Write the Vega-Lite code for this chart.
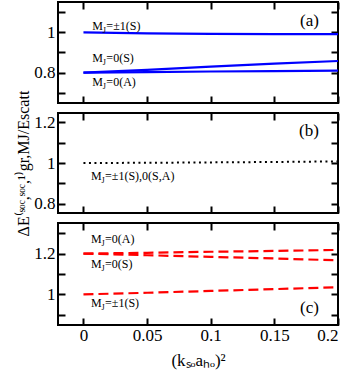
{
  "$schema": "https://vega.github.io/schema/vega-lite/v6.json",
  "padding": {"left": 14, "top": 0, "right": 13, "bottom": 2},
  "spacing": 10,
  "bounds": "flush",
  "config": {
    "view": {"stroke": "black", "strokeWidth": 2},
    "font": "'Liberation Serif', 'Times New Roman', serif",
    "text": {"font": "'Liberation Serif', 'Times New Roman', serif"},
    "axis": {
      "domain": false, "grid": false, "ticks": true, "tickSize": -7, "tickWidth": 2, "tickColor": "black",
      "labelFont": "'Liberation Serif', 'Times New Roman', serif", "labelFontSize": 17, "labelColor": "black", "labelPadding": 10,
      "titleFont": "'Liberation Serif', 'Times New Roman', serif", "titleFontSize": 17, "titleFontWeight": "normal", "titleColor": "black"
    }
  },
  "datasets": {
    "a": [
      {"s": "pm1S", "x": 0, "y": 1.0}, {"s": "pm1S", "x": 0.05, "y": 0.995}, {"s": "pm1S", "x": 0.1, "y": 0.992}, {"s": "pm1S", "x": 0.15, "y": 0.991}, {"s": "pm1S", "x": 0.2, "y": 0.991},
      {"s": "0S", "x": 0, "y": 0.8}, {"s": "0S", "x": 0.05, "y": 0.814}, {"s": "0S", "x": 0.1, "y": 0.83}, {"s": "0S", "x": 0.15, "y": 0.845}, {"s": "0S", "x": 0.2, "y": 0.858},
      {"s": "0A", "x": 0, "y": 0.8}, {"s": "0A", "x": 0.05, "y": 0.803}, {"s": "0A", "x": 0.1, "y": 0.806}, {"s": "0A", "x": 0.15, "y": 0.808}, {"s": "0A", "x": 0.2, "y": 0.81}
    ],
    "b": [
      {"s": "all", "x": 0, "y": 1.0}, {"s": "all", "x": 0.05, "y": 1.001}, {"s": "all", "x": 0.1, "y": 1.003}, {"s": "all", "x": 0.15, "y": 1.005}, {"s": "all", "x": 0.2, "y": 1.008}
    ],
    "c": [
      {"s": "0A", "x": 0, "y": 1.2}, {"s": "0A", "x": 0.05, "y": 1.204}, {"s": "0A", "x": 0.1, "y": 1.209}, {"s": "0A", "x": 0.15, "y": 1.213}, {"s": "0A", "x": 0.2, "y": 1.218},
      {"s": "0S", "x": 0, "y": 1.2}, {"s": "0S", "x": 0.05, "y": 1.192}, {"s": "0S", "x": 0.1, "y": 1.184}, {"s": "0S", "x": 0.15, "y": 1.176}, {"s": "0S", "x": 0.2, "y": 1.167},
      {"s": "pm1S", "x": 0, "y": 1.0}, {"s": "pm1S", "x": 0.05, "y": 1.008}, {"s": "pm1S", "x": 0.1, "y": 1.017}, {"s": "pm1S", "x": 0.15, "y": 1.026}, {"s": "pm1S", "x": 0.2, "y": 1.035}
    ],
    "la": [
      {"x": 0.007, "y": 1.0135, "rest": "=±1(S)"},
      {"x": 0.007, "y": 0.855, "rest": "=0(S)"},
      {"x": 0.007, "y": 0.733, "rest": "=0(A)"}
    ],
    "lb": [
      {"x": 0.006, "y": 0.917, "rest": "=±1(S),0(S,A)"}
    ],
    "lc": [
      {"x": 0.006, "y": 1.25, "rest": "=0(A)"},
      {"x": 0.006, "y": 1.128, "rest": "=0(S)"},
      {"x": 0.006, "y": 0.936, "rest": "=±1(S)"}
    ],
    "pa": [{"x": 0.185, "y": 1.03, "t": "(a)"}],
    "pb": [{"x": 0.185, "y": 1.13, "t": "(b)"}],
    "pc": [{"x": 0.185, "y": 0.911, "t": "(c)"}]
  },
  "vconcat": [
    {
      "width": 280, "height": 101,
      "resolve": {"axis": {"x": "independent", "y": "independent"}},
      "layer": [
        {
          "data": {"name": "a"},
          "mark": {"type": "line", "color": "#0000ff", "strokeWidth": 2.2},
          "encoding": {
            "x": {"field": "x", "type": "quantitative", "scale": {"domain": [-0.02, 0.2], "nice": false, "zero": false},
                  "axis": {"orient": "bottom", "values": [0, 0.05, 0.1, 0.15, 0.2], "labels": false, "title": null, "labelPadding": 0, "minExtent": 0, "maxExtent": 0}},
            "y": {"field": "y", "type": "quantitative", "scale": {"domain": [0.65, 1.15], "nice": false, "zero": false},
                  "axis": {"orient": "left", "values": [0.7, 0.8, 0.9, 1.0, 1.1], "labelExpr": "round(datum.value*10) % 2 == 0 ? format(datum.value, '~g') : ''", "title": null}},
            "detail": {"field": "s"}
          }
        },
        {
          "data": {"name": "la"},
          "mark": {"type": "text", "align": "left", "baseline": "alphabetic", "fontSize": 12, "text": "M"},
          "encoding": {
            "x": {"field": "x", "type": "quantitative", "scale": {"domain": [-0.02, 0.2], "nice": false, "zero": false}, "axis": null},
            "y": {"field": "y", "type": "quantitative", "scale": {"domain": [0.65, 1.15], "nice": false, "zero": false}, "axis": null}
          }
        },
        {
          "data": {"name": "la"},
          "mark": {"type": "text", "align": "left", "baseline": "alphabetic", "fontSize": 8, "text": "J", "dx": 10.5, "dy": 3},
          "encoding": {
            "x": {"field": "x", "type": "quantitative", "scale": {"domain": [-0.02, 0.2], "nice": false, "zero": false}, "axis": null},
            "y": {"field": "y", "type": "quantitative", "scale": {"domain": [0.65, 1.15], "nice": false, "zero": false}, "axis": null}
          }
        },
        {
          "data": {"name": "la"},
          "mark": {"type": "text", "align": "left", "baseline": "alphabetic", "fontSize": 12, "dx": 14},
          "encoding": {
            "x": {"field": "x", "type": "quantitative", "scale": {"domain": [-0.02, 0.2], "nice": false, "zero": false}, "axis": null},
            "y": {"field": "y", "type": "quantitative", "scale": {"domain": [0.65, 1.15], "nice": false, "zero": false}, "axis": null},
            "text": {"field": "rest"}
          }
        },
        {
          "data": {"name": "pa"},
          "mark": {"type": "text", "align": "right", "baseline": "alphabetic", "fontSize": 17},
          "encoding": {
            "x": {"field": "x", "type": "quantitative", "scale": {"domain": [-0.02, 0.2], "nice": false, "zero": false},
                  "axis": {"orient": "top", "values": [0, 0.05, 0.1, 0.15, 0.2], "labels": false, "title": null, "labelPadding": 0, "minExtent": 0, "maxExtent": 0}},
            "y": {"field": "y", "type": "quantitative", "scale": {"domain": [0.65, 1.15], "nice": false, "zero": false},
                  "axis": {"orient": "right", "values": [0.7, 0.8, 0.9, 1.0, 1.1], "labels": false, "title": null, "labelPadding": 0, "minExtent": 0, "maxExtent": 0}},
            "text": {"field": "t"}
          }
        }
      ]
    },
    {
      "width": 280, "height": 100,
      "resolve": {"axis": {"x": "independent", "y": "independent"}},
      "layer": [
        {
          "data": {"name": "b"},
          "mark": {"type": "line", "color": "black", "strokeWidth": 2, "strokeDash": [2, 3.5]},
          "encoding": {
            "x": {"field": "x", "type": "quantitative", "scale": {"domain": [-0.02, 0.2], "nice": false, "zero": false},
                  "axis": {"orient": "bottom", "values": [0, 0.05, 0.1, 0.15, 0.2], "labels": false, "title": null, "labelPadding": 0, "minExtent": 0, "maxExtent": 0}},
            "y": {"field": "y", "type": "quantitative", "scale": {"domain": [0.755, 1.245], "nice": false, "zero": false},
                  "axis": {"orient": "left", "values": [0.8, 0.9, 1.0, 1.1, 1.2], "labelExpr": "round(datum.value*10) % 2 == 0 ? format(datum.value, '~g') : ''",
                           "title": "ΔE⁽ˢᵒᶜ,ˢᵒᶜ,¹⁾gr,MJ/Escatt", "titlePadding": 2, "titleFontSize": 16}},
            "detail": {"field": "s"}
          }
        },
        {
          "data": {"name": "lb"},
          "mark": {"type": "text", "align": "left", "baseline": "alphabetic", "fontSize": 12, "text": "M"},
          "encoding": {
            "x": {"field": "x", "type": "quantitative", "scale": {"domain": [-0.02, 0.2], "nice": false, "zero": false}, "axis": null},
            "y": {"field": "y", "type": "quantitative", "scale": {"domain": [0.755, 1.245], "nice": false, "zero": false}, "axis": null}
          }
        },
        {
          "data": {"name": "lb"},
          "mark": {"type": "text", "align": "left", "baseline": "alphabetic", "fontSize": 8, "text": "J", "dx": 10.5, "dy": 3},
          "encoding": {
            "x": {"field": "x", "type": "quantitative", "scale": {"domain": [-0.02, 0.2], "nice": false, "zero": false}, "axis": null},
            "y": {"field": "y", "type": "quantitative", "scale": {"domain": [0.755, 1.245], "nice": false, "zero": false}, "axis": null}
          }
        },
        {
          "data": {"name": "lb"},
          "mark": {"type": "text", "align": "left", "baseline": "alphabetic", "fontSize": 12, "dx": 14},
          "encoding": {
            "x": {"field": "x", "type": "quantitative", "scale": {"domain": [-0.02, 0.2], "nice": false, "zero": false}, "axis": null},
            "y": {"field": "y", "type": "quantitative", "scale": {"domain": [0.755, 1.245], "nice": false, "zero": false}, "axis": null},
            "text": {"field": "rest"}
          }
        },
        {
          "data": {"name": "pb"},
          "mark": {"type": "text", "align": "right", "baseline": "alphabetic", "fontSize": 17},
          "encoding": {
            "x": {"field": "x", "type": "quantitative", "scale": {"domain": [-0.02, 0.2], "nice": false, "zero": false},
                  "axis": {"orient": "top", "values": [0, 0.05, 0.1, 0.15, 0.2], "labels": false, "title": null, "labelPadding": 0, "minExtent": 0, "maxExtent": 0}},
            "y": {"field": "y", "type": "quantitative", "scale": {"domain": [0.755, 1.245], "nice": false, "zero": false},
                  "axis": {"orient": "right", "values": [0.8, 0.9, 1.0, 1.1, 1.2], "labels": false, "title": null, "labelPadding": 0, "minExtent": 0, "maxExtent": 0}},
            "text": {"field": "t"}
          }
        }
      ]
    },
    {
      "width": 280, "height": 102,
      "resolve": {"axis": {"x": "independent", "y": "independent"}},
      "layer": [
        {
          "data": {"name": "c"},
          "mark": {"type": "line", "color": "#ff0000", "strokeWidth": 2.2, "strokeDash": [10, 5]},
          "encoding": {
            "x": {"field": "x", "type": "quantitative", "scale": {"domain": [-0.02, 0.2], "nice": false, "zero": false},
                  "axis": {"orient": "bottom", "values": [0, 0.05, 0.1, 0.15, 0.2], "format": "~g", "title": "(kₛₒaₕₒ)²", "titlePadding": 9, "labelPadding": 9}},
            "y": {"field": "y", "type": "quantitative", "scale": {"domain": [0.85, 1.35], "nice": false, "zero": false},
                  "axis": {"orient": "left", "values": [0.9, 1.0, 1.1, 1.2, 1.3], "labelExpr": "round(datum.value*10) % 2 == 0 ? format(datum.value, '~g') : ''", "title": null}},
            "detail": {"field": "s"}
          }
        },
        {
          "data": {"name": "lc"},
          "mark": {"type": "text", "align": "left", "baseline": "alphabetic", "fontSize": 12, "text": "M"},
          "encoding": {
            "x": {"field": "x", "type": "quantitative", "scale": {"domain": [-0.02, 0.2], "nice": false, "zero": false}, "axis": null},
            "y": {"field": "y", "type": "quantitative", "scale": {"domain": [0.85, 1.35], "nice": false, "zero": false}, "axis": null}
          }
        },
        {
          "data": {"name": "lc"},
          "mark": {"type": "text", "align": "left", "baseline": "alphabetic", "fontSize": 8, "text": "J", "dx": 10.5, "dy": 3},
          "encoding": {
            "x": {"field": "x", "type": "quantitative", "scale": {"domain": [-0.02, 0.2], "nice": false, "zero": false}, "axis": null},
            "y": {"field": "y", "type": "quantitative", "scale": {"domain": [0.85, 1.35], "nice": false, "zero": false}, "axis": null}
          }
        },
        {
          "data": {"name": "lc"},
          "mark": {"type": "text", "align": "left", "baseline": "alphabetic", "fontSize": 12, "dx": 14},
          "encoding": {
            "x": {"field": "x", "type": "quantitative", "scale": {"domain": [-0.02, 0.2], "nice": false, "zero": false}, "axis": null},
            "y": {"field": "y", "type": "quantitative", "scale": {"domain": [0.85, 1.35], "nice": false, "zero": false}, "axis": null},
            "text": {"field": "rest"}
          }
        },
        {
          "data": {"name": "pc"},
          "mark": {"type": "text", "align": "right", "baseline": "alphabetic", "fontSize": 17},
          "encoding": {
            "x": {"field": "x", "type": "quantitative", "scale": {"domain": [-0.02, 0.2], "nice": false, "zero": false},
                  "axis": {"orient": "top", "values": [0, 0.05, 0.1, 0.15, 0.2], "labels": false, "title": null, "labelPadding": 0, "minExtent": 0, "maxExtent": 0}},
            "y": {"field": "y", "type": "quantitative", "scale": {"domain": [0.85, 1.35], "nice": false, "zero": false},
                  "axis": {"orient": "right", "values": [0.9, 1.0, 1.1, 1.2, 1.3], "labels": false, "title": null, "labelPadding": 0, "minExtent": 0, "maxExtent": 0}},
            "text": {"field": "t"}
          }
        }
      ]
    }
  ]
}
